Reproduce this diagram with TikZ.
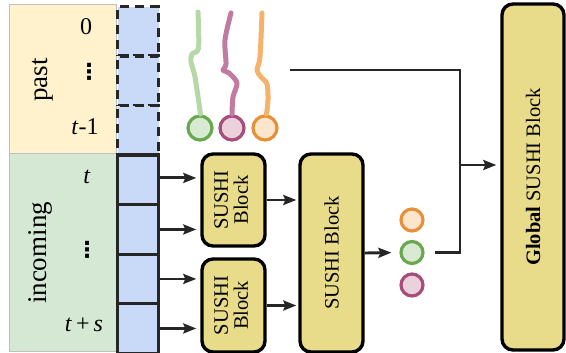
\documentclass[tikz,border=0pt]{standalone}
\usepackage{fontspec}
\setmainfont{Liberation Serif}
\newfontfamily\dotsfont{DejaVu Sans}
\usetikzlibrary{arrows.meta}
\definecolor{ybg}{HTML}{FFF2CC}
\definecolor{gbg}{HTML}{D5E8D4}
\definecolor{cellblue}{HTML}{C9DAF8}
\definecolor{blockfill}{HTML}{E8DB8A}
\definecolor{ink}{HTML}{262626}
\definecolor{cgreenD}{HTML}{6AA84F}
\definecolor{cgreenF}{HTML}{D9EAD3}
\definecolor{cpinkD}{HTML}{A64D79}
\definecolor{cpinkF}{HTML}{EAD1DC}
\definecolor{corangeD}{HTML}{E69138}
\definecolor{corangeF}{HTML}{FCE5CD}
\definecolor{sqgreen}{HTML}{B6D7A8}
\definecolor{sqpink}{HTML}{C27BA0}
\definecolor{sqorange}{HTML}{F6B26B}
\tikzset{
  cellbox/.style={draw=ink, fill=cellblue, line width=3.4pt, minimum width=41pt, minimum height=49.5pt, inner sep=0pt, anchor=north west},
  cellpast/.style={cellbox, dash pattern=on 9pt off 6pt},
  block/.style={draw=black, fill=blockfill, line width=3.4pt, rounded corners=11pt, inner sep=0pt, align=center, font=\fontsize{20.5}{22}\selectfont},
  lab/.style={font=\fontsize{24}{28}\selectfont, inner sep=0pt},
  dotlab/.style={font=\dotsfont\bfseries\fontsize{22}{24}\selectfont, inner sep=0pt},
  biglab/.style={font=\fontsize{27}{30}\selectfont, inner sep=0pt, rotate=90},
  arr/.style={draw=ink, line width=2.9pt, -{Stealth[length=13pt,width=10pt,inset=2pt]}},
  link/.style={draw=ink, line width=2.9pt},
  dot/.style={circle, minimum size=#1, inner sep=0pt, line width=3.2pt},
  squig/.style={line width=5pt, line cap=round, line join=round}
}
\begin{document}
\begin{tikzpicture}[x=1pt,y=-1pt]
\useasboundingbox (0,0) rectangle (566,353);
% backgrounds
\fill[ybg, draw=black!25, line width=0.5pt] (9,4) rectangle (116,153);
\fill[gbg, draw=black!25, line width=0.5pt] (9,153) rectangle (116,351);
% past cells
\node[cellpast] (p1) at (116,5) {};
\node[cellpast] (p2) at (116,54.5) {};
\node[cellpast] (p3) at (116,104) {};
% incoming cells
\node[cellbox] (c1) at (116,153.5) {};
\node[cellbox] (c2) at (116,203) {};
\node[cellbox] (c3) at (116,252.5) {};
\node[cellbox] (c4) at (116,302) {};
% labels
\node[lab] (l0) at (86,27) {0};
\node[dotlab] (ld1) at (89,72) {⋮};
\node[lab] (lt1) at (85,127) {\textit{t}-1};
\node[biglab] (past) at (43,80) {past};
\node[lab] (lt) at (87,177) {\textit{t}};
\node[dotlab] (ld2) at (87,250) {⋮};
\node[lab] (lts) at (84,325) {\textit{t}\,+\,\textit{s}};
\node[biglab] (inc) at (40,253) {incoming};
% blocks
\node[block, minimum width=63pt, minimum height=92pt] (b1) at (233.5,200) {\rotatebox{90}{\begin{tabular}{@{}c@{}}SUSHI\\[-2pt]Block\end{tabular}}};
\node[block, minimum width=63pt, minimum height=93pt] (b2) at (233.5,305.5) {\rotatebox{90}{\begin{tabular}{@{}c@{}}SUSHI\\[-2pt]Block\end{tabular}}};
\node[block, minimum width=63pt, minimum height=198pt] (mid) at (331.5,253) {\rotatebox{90}{SUSHI Block}};
\node[block, minimum width=62pt, minimum height=346pt] (glob) at (533,177) {\rotatebox{90}{\textbf{Global} SUSHI Block}};
% arrows cells -> blocks
\draw[arr, shorten >=4pt] ([yshift=2pt]c1.east) -- ([yshift=2pt]c1.east -| b1.west);
\draw[arr, shorten >=4pt] (c2.east) -- (c2.east -| b1.west);
\draw[arr, shorten >=4pt] (c3.east) -- (c3.east -| b2.west);
\draw[arr, shorten >=4pt] (c4.east) -- (c4.east -| b2.west);
% blocks -> middle
\draw[arr, shorten >=2pt] (b1.east) -- (b1.east -| mid.west);
\draw[arr, shorten >=2pt] (b2.east) -- (b2.east -| mid.west);
% output circles
\node[dot=22pt, draw=corangeD, fill=corangeF] (oo) at (412,220) {};
\node[dot=22pt, draw=cgreenD, fill=cgreenF] (og) at (412,252.5) {};
\node[dot=22pt, draw=cpinkD, fill=cpinkF] (op) at (412,285) {};
\draw[arr, shorten >=8pt] (mid.east) -- (og.west);
% past circles
\node[dot=24pt, draw=cgreenD, fill=cgreenF] (pg) at (200,128) {};
\node[dot=24pt, draw=cpinkD, fill=cpinkF] (pp) at (232,128) {};
\node[dot=24pt, draw=corangeD, fill=corangeF] (po) at (265,128) {};
% squiggles
\draw[squig, sqgreen] plot[smooth, tension=0.5] coordinates {(198,12) (198.5,48) (192,54) (191,62) (195,77) (200.5,114)};
\draw[squig, sqpink] plot[smooth, tension=0.5] coordinates {(231,13) (225,40) (226,64) (223,70) (229,73) (237,83) (233,97) (232,114)};
\draw[squig, sqorange] plot[smooth, tension=0.5] coordinates {(262,13) (260,57) (257,70) (261,77) (267,84) (268,100) (266.5,114)};
% merge lines
\coordinate (pastout) at (290,70);
\coordinate (jtop) at (460,70);
\coordinate (jmid) at (460,165);
\coordinate (jbot) at (460,252.5);
\draw[link] (pastout) -- (jtop) -- (jbot) -- ([xshift=10pt]og.east);
\draw[arr, shorten >=4pt] (jmid) -- (jmid -| glob.west);
\end{tikzpicture}
\end{document}
